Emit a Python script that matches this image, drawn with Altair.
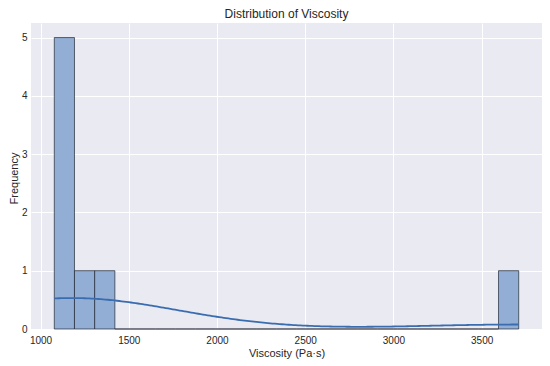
import altair as alt
import pandas as pd
import numpy as np

# Raw viscosity samples (Pa·s)
viscosity = [1078, 1095, 1120, 1150, 1180, 1250, 1370, 3710]

# Histogram: 23 equal bins between min and max, counts
counts = [5, 1, 1, 0, 0, 0, 0, 0, 0, 0, 0, 0, 0, 0, 0, 0, 0, 0, 0, 0, 0, 0, 1]
x_min, x_max = 1078, 3710
edges = np.linspace(x_min, x_max, len(counts) + 1)
bin_width = edges[1] - edges[0]

x_ticks = [1000, 1500, 2000, 2500, 3000, 3500]
y_ticks = [0, 1, 2, 3, 4, 5]

hist_df = pd.DataFrame({"start": edges[:-1], "end": edges[1:], "count": counts})
raw_df = pd.DataFrame({"v": viscosity})

FONT = "Liberation Sans"
TXT = "#262626"

x_scale = alt.Scale(domain=[946, 3842], nice=False, zero=False)
y_scale = alt.Scale(domain=[0, 5.25], nice=False)

x_axis = alt.Axis(values=x_ticks, format="d", title="Viscosity (Pa·s)", grid=True,
                  gridColor="white", gridWidth=1, ticks=False, domain=False,
                  labelPadding=6, titlePadding=2,
                  labelFontSize=10, titleFontSize=11, labelColor=TXT, titleColor=TXT,
                  labelFont=FONT, titleFont=FONT, titleFontWeight="normal")
y_axis = alt.Axis(values=y_ticks, format="d", title="Frequency", grid=True,
                  gridColor="white", gridWidth=1, ticks=False, domain=False,
                  labelPadding=4, titleX=-17, titleY=155, titleBaseline="middle",
                  labelFontSize=10, titleFontSize=11, labelColor=TXT, titleColor=TXT,
                  labelFont=FONT, titleFont=FONT, titleFontWeight="normal")

bars = alt.Chart(hist_df).mark_rect(
    fill="#93AED4", stroke="#1E2430", strokeWidth=0.8, strokeOpacity=0.85
).encode(
    x=alt.X("start:Q", scale=x_scale, axis=x_axis),
    x2="end:Q",
    y=alt.Y("count:Q", scale=y_scale, axis=y_axis),
    y2=alt.datum(0),
)

kde = alt.Chart(raw_df).transform_density(
    density="v", bandwidth=594, extent=[x_min, x_max], counts=True, steps=200,
    as_=["value", "dens"]
).transform_calculate(
    y=f"datum.dens * {bin_width}"
).mark_line(color="#3A6DB0", strokeWidth=1.8).encode(
    x=alt.X("value:Q", scale=x_scale),
    y=alt.Y("y:Q", scale=y_scale),
)

chart = alt.layer(bars, kde).properties(
    width=511, height=306,
    title=alt.TitleParams("Distribution of Viscosity", font=FONT, fontSize=12,
                          fontWeight="normal", color=TXT, anchor="middle", offset=2),
    autosize=alt.AutoSizeParams(type="none"),
    padding={"left": 23, "top": 15, "right": 0, "bottom": 37},
).configure_view(fill="#EAEAF2", stroke=None)

chart.save("out.html", embed_options={"renderer": "svg", "actions": False})
